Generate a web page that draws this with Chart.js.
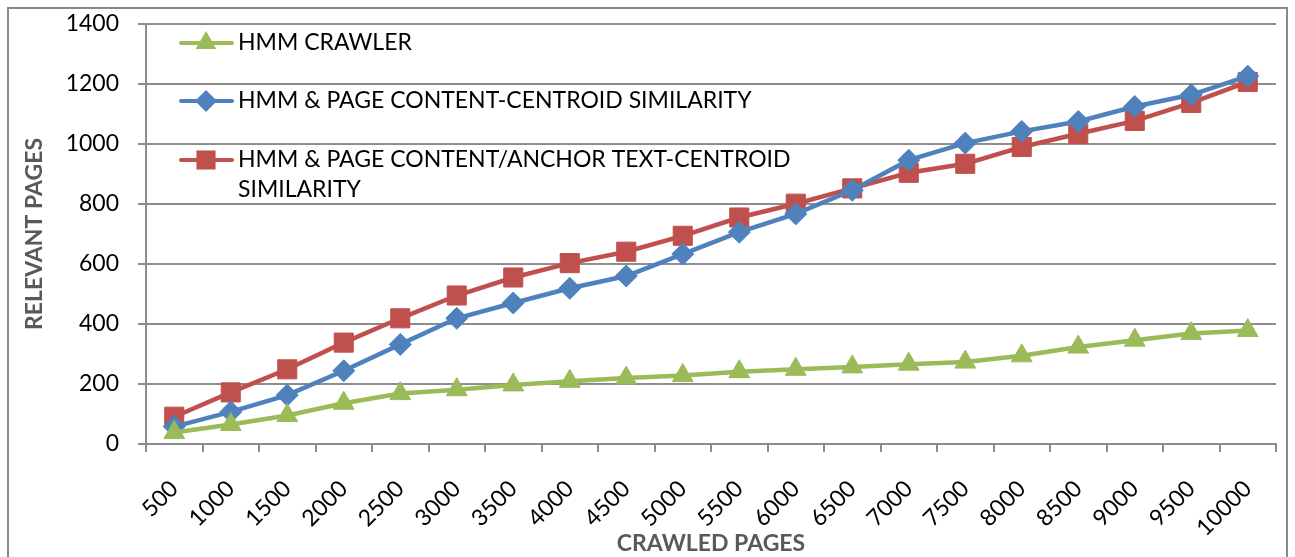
<!DOCTYPE html>
<html>
<head>
<meta charset="utf-8">
<title>Relevant pages vs crawled pages</title>
<script src="https://cdn.jsdelivr.net/npm/chart.js@4"></script>
<style>
  html, body { margin: 0; padding: 0; background: #fff; }
  #wrap { width: 1295px; height: 557px; }
</style>
</head>
<body>
<div id="wrap"><canvas id="crawlChart" width="1295" height="557"></canvas></div>
<script>
// ---- data ----
const crawledPages = ["500", "1000", "1500", "2000", "2500", "3000", "3500", "4000", "4500", "5000",
  "5500", "6000", "6500", "7000", "7500", "8000", "8500", "9000", "9500", "10000"];

const hmmCrawler = [38, 65, 95, 136, 168, 181, 197, 209, 220, 228,
  241, 249, 257, 266, 273, 294, 323, 346, 368, 378];

const hmmContent = [58, 107, 163, 244, 332, 419, 470, 519, 560, 633,
  706, 767, 846, 946, 1003, 1042, 1075, 1125, 1164, 1226];

const hmmContentAnchor = [91, 172, 249, 338, 419, 495, 555, 603, 641, 694,
  755, 801, 852, 904, 934, 990, 1034, 1077, 1137, 1207];

const seriesNames = [
  ["HMM CRAWLER"],
  ["HMM & PAGE CONTENT-CENTROID SIMILARITY"],
  ["HMM & PAGE CONTENT/ANCHOR TEXT-CENTROID", "SIMILARITY"]
];

const yTicks = [0, 200, 400, 600, 800, 1000, 1200, 1400];

const GREEN = "#9bbb59";
const BLUE = "#4f81bd";
const RED = "#c0504d";
const GRID = "#8c8c8c";
const FONT = "Lato, 'Open Sans', sans-serif";

// marker shape for the legend (same as chart.js point styles)
function marker(ctx, style, x, y, r) {
  ctx.beginPath();
  if (style === "triangle") {
    ctx.moveTo(x, y - r);
    ctx.lineTo(x + r * 0.866, y + r * 0.5);
    ctx.lineTo(x - r * 0.866, y + r * 0.5);
  } else if (style === "rectRot") {
    ctx.moveTo(x - r, y);
    ctx.lineTo(x, y - r);
    ctx.lineTo(x + r, y);
    ctx.lineTo(x, y + r);
  } else {
    const s = r * Math.SQRT1_2;
    ctx.rect(x - s, y - s, s * 2, s * 2);
  }
  ctx.closePath();
  ctx.fill();
}

// legend drawn inside the plot, top-left, like the original
const innerLegend = {
  id: "innerLegend",
  afterDraw(chart) {
    const ctx = chart.ctx;
    const rows = [43, 101, 160];
    ctx.save();
    ctx.font = "23px " + FONT;
    ctx.textBaseline = "middle";
    ctx.textAlign = "left";
    chart.data.datasets.forEach((ds, i) => {
      const y = rows[i];
      ctx.strokeStyle = ds.borderColor;
      ctx.lineWidth = 4;
      ctx.lineCap = "round";
      ctx.beginPath();
      ctx.moveTo(181, y);
      ctx.lineTo(232, y);
      ctx.stroke();
      ctx.fillStyle = ds.backgroundColor;
      marker(ctx, ds.pointStyle, 206, y, ds.pointRadius);
      ctx.fillStyle = "#000";
      seriesNames[i].forEach((line, k) => ctx.fillText(line, 238, y + k * 30));
    });
    ctx.restore();
  }
};

// outer frame of the chart object
const frame = {
  id: "frame",
  afterDraw(chart) {
    const ctx = chart.ctx;
    ctx.save();
    ctx.strokeStyle = "#8a8a8a";
    ctx.lineWidth = 2;
    ctx.strokeRect(8, 8, 1279, 600);
    ctx.restore();
  }
};

function lineSet(label, data, color, style, radius) {
  return {
    label: label,
    data: data,
    borderColor: color,
    backgroundColor: color,
    borderWidth: 4.5,
    pointStyle: style,
    pointRadius: radius,
    pointHoverRadius: radius,
    pointBorderWidth: 1,
    pointBorderColor: color,
    pointBackgroundColor: color,
    tension: 0
  };
}

new Chart(document.getElementById("crawlChart"), {
  type: "line",
  data: {
    labels: crawledPages,
    datasets: [
      lineSet(seriesNames[0].join(" "), hmmCrawler, GREEN, "triangle", 12),
      lineSet(seriesNames[1].join(" "), hmmContent, BLUE, "rectRot", 11),
      lineSet(seriesNames[2].join(" "), hmmContentAnchor, RED, "rect", 13.5)
    ]
  },
  options: {
    responsive: false,
    animation: false,
    layout: { padding: { top: 24, right: 19, left: 0, bottom: 0 } },
    plugins: {
      legend: { display: false },
      tooltip: { enabled: false }
    },
    scales: {
      x: {
        offset: true,
        afterFit: s => {
          s.height = 113;
          s.paddingLeft = 0;
          s.paddingRight = 0;
        },
        grid: {
          offset: true,
          drawOnChartArea: false,
          drawTicks: true,
          tickLength: 8,
          color: GRID,
          lineWidth: 2
        },
        border: { display: true, color: GRID, width: 2 },
        ticks: {
          color: "#000",
          font: { family: FONT, size: 23 },
          minRotation: 45,
          maxRotation: 45,
          padding: 23,
          autoSkip: false
        },
        title: {
          display: true,
          text: "CRAWLED PAGES",
          color: "#595959",
          font: { family: FONT, size: 23, weight: "bold" },
          padding: { top: 0, bottom: 0 }
        }
      },
      y: {
        min: 0,
        max: 1400,
        afterFit: s => {
          s.width = 146;
          s.paddingTop = 0;
          s.paddingBottom = 0;
        },
        afterBuildTicks: s => { s.ticks = yTicks.map(v => ({ value: v })); },
        grid: {
          color: GRID,
          lineWidth: 2,
          drawTicks: true,
          tickLength: 8
        },
        border: { display: true, color: GRID, width: 2 },
        ticks: {
          color: "#000",
          font: { family: FONT, size: 23 },
          padding: 19,
          callback: v => String(v)
        },
        title: {
          display: true,
          text: "RELEVANT PAGES",
          color: "#595959",
          font: { family: FONT, size: 23, weight: "bold" },
          padding: { top: 21, bottom: 0 }
        }
      }
    }
  },
  plugins: [innerLegend, frame]
});
</script>
</body>
</html>
